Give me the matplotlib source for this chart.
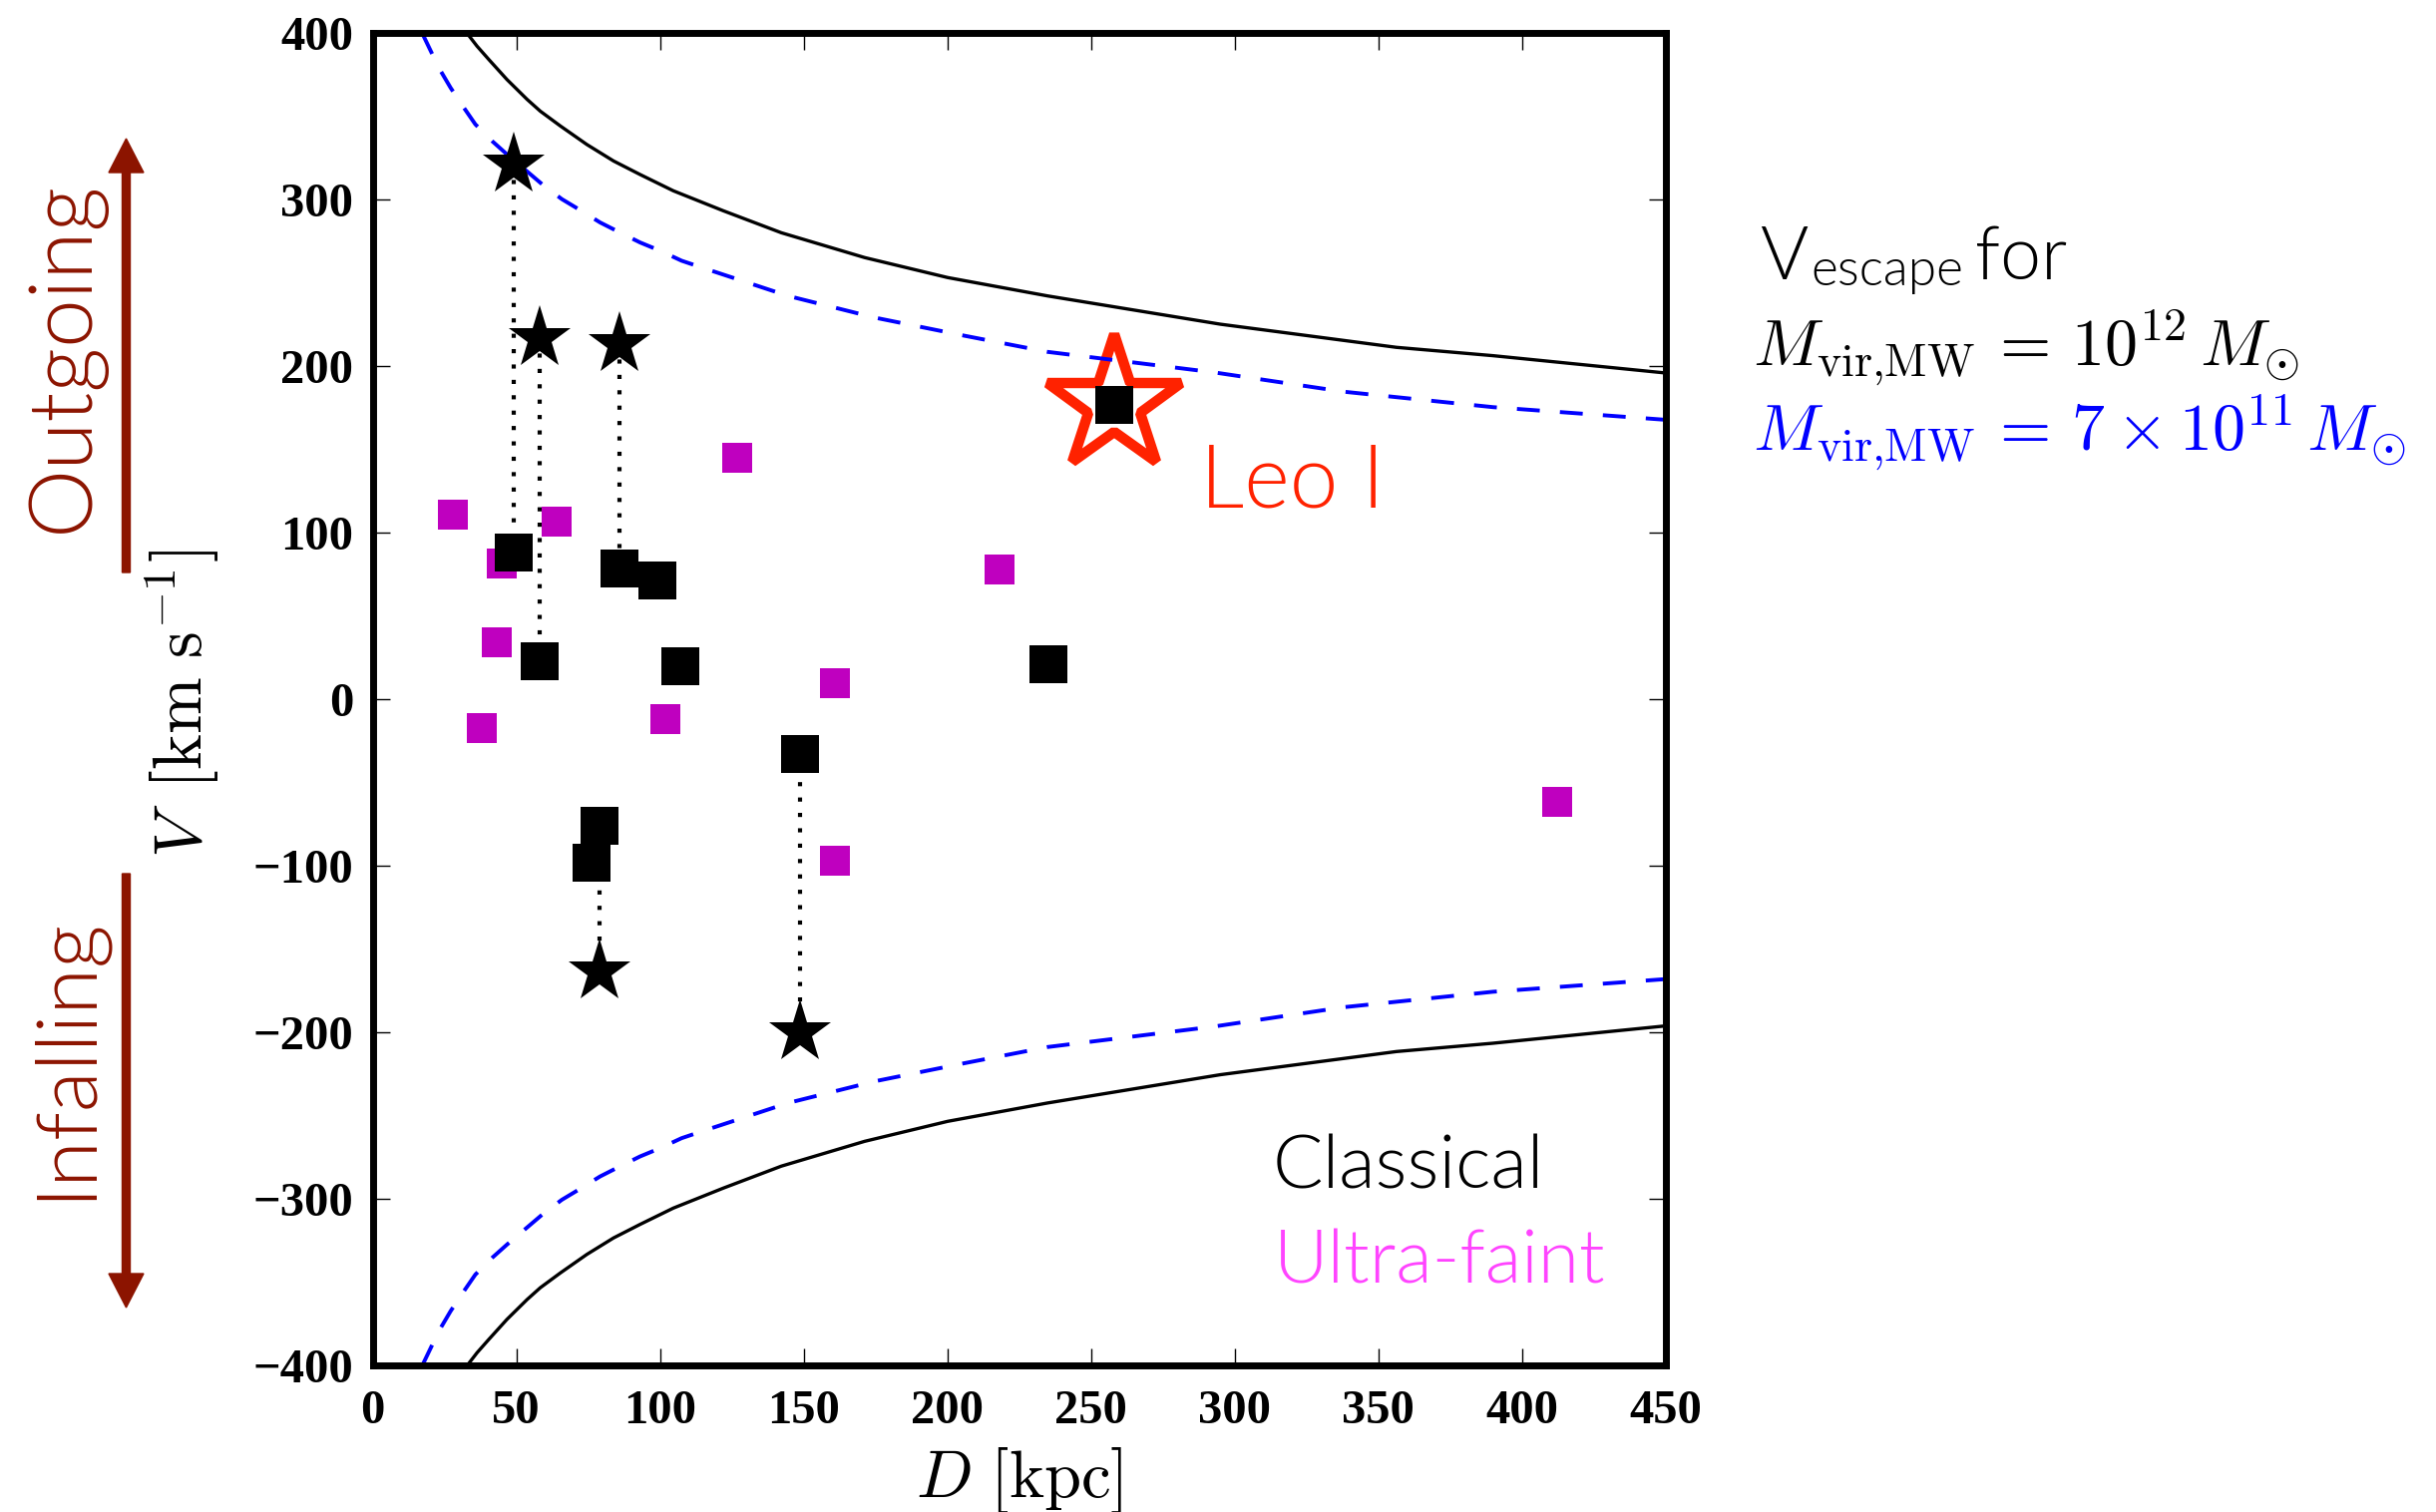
import matplotlib
matplotlib.use("Agg")
import matplotlib.pyplot as plt
from matplotlib.patches import FancyArrow
from matplotlib.transforms import IdentityTransform

plt.rcParams['mathtext.fontset'] = 'cm'

# ---------------- data ----------------
# escape-velocity curves (upper branch / lower branch)
esc12_D = [32.8, 36.3, 40.4, 46.7, 53.7, 58.3, 65.3, 74.5, 83.8, 93.0, 104.6,
           122.0, 142.2, 171.2, 200.1, 234.8, 295.0, 356.3, 389.9, 450.0]
esc12_V = [400.0, 392.2, 384.2, 372.2, 360.3, 353.2, 344.3, 333.2, 323.3, 315.2,
           305.4, 293.4, 280.2, 265.3, 253.3, 242.3, 225.3, 211.4, 206.4, 196.0]
esc12_Vlow = [-400.0, -392.2, -384.2, -372.2, -360.3, -353.2, -344.3, -333.2,
              -323.3, -315.2, -305.4, -293.4, -280.2, -265.3, -253.3, -242.3,
              -225.3, -211.4, -206.4, -196.0]

esc7_D = [17.2, 23.0, 27.1, 31.7, 35.7, 41.5, 46.7, 58.9, 65.8, 71.6, 79.1, 85.5,
          93.0, 100.0, 107.5, 114.4, 144.5, 174.6, 205.9, 234.8, 292.7, 337.8,
          389.9, 450.0]
esc7_V = [400.0, 379.2, 367.2, 355.3, 345.3, 335.3, 327.3, 309.4, 300.4, 294.4,
          286.4, 280.8, 274.4, 269.4, 263.4, 259.4, 242.3, 229.3, 218.4, 208.7,
          196.4, 184.8, 175.5, 167.9]
esc7_Vlow = [-400.0, -379.2, -367.2, -355.3, -345.3, -335.3, -327.3, -309.4,
             -300.4, -294.4, -286.4, -280.8, -274.4, -269.4, -263.4, -259.4,
             -242.3, -229.3, -218.4, -208.7, -196.4, -184.8, -175.5, -167.9]

# classical dwarfs (black squares)
classical_D = [49.0, 58.0, 85.9, 99.0, 106.9, 148.7, 78.9, 76.1, 235.2, 258.2]
classical_V = [88.4, 22.9, 78.6, 71.7, 19.7, -32.5, -76.0, -97.9, 21.3, 176.7]

# ultra-faint dwarfs (magenta squares)
ufd_D = [27.9, 63.9, 44.9, 43.0, 37.8, 101.9, 126.9, 218.0, 161.0, 412.1, 161.0]
ufd_V = [110.8, 106.8, 81.4, 34.4, -16.9, -11.7, 145.0, 77.8, 9.6, -61.3, -96.7]

# alternative velocities (black stars) and the classical dwarf they belong to
star_D = [49.0, 58.0, 86.0, 78.9, 148.7]
star_V = [321.0, 216.7, 213.1, -163.0, -200.0]
star_pair_V = [88.4, 22.9, 78.6, -76.0, -32.5]

leo_D = [258.2]
leo_V = [176.7]

x_ticks = [0, 50, 100, 150, 200, 250, 300, 350, 400, 450]
y_ticks = [-400, -300, -200, -100, 0, 100, 200, 300, 400]

# ---------------- figure ----------------
W, H = 2442, 1516
fig = plt.figure(figsize=(W / 100, H / 100), dpi=100)
ax = fig.add_axes([373.7 / W, 1 - 1369.3 / H, 1296 / W, 1336 / H])

RED = '#FF2200'
DARKRED = '#8C1400'
PINK = '#FF44FF'
MAG = '#BF00BF'

# Leo I open star (underneath)
ax.plot(leo_D, leo_V, linestyle='none', marker='*', ms=102, mfc='none',
        mec=RED, mew=7.5, zorder=1)

# escape curves
ax.plot(esc12_D, esc12_V, color='k', lw=2.4, zorder=2)
ax.plot(esc12_D, esc12_Vlow, color='k', lw=2.4, zorder=2)
ax.plot(esc7_D, esc7_V, color='blue', lw=2.8, dashes=(5.9, 5.2), zorder=2)
ax.plot(esc7_D, esc7_Vlow, color='blue', lw=2.8, dashes=(5.9, 5.2), zorder=2)

# dotted connectors
for d, v1, v2 in zip(star_D, star_V, star_pair_V):
    ax.plot([d, d], [v1, v2], color='k', lw=3.0, linestyle=(0, (1, 2.7)),
            zorder=3)

ax.plot(ufd_D, ufd_V, linestyle='none', marker='s', ms=21.6, mfc=MAG,
        mec='none', mew=0, zorder=4)
ax.plot(classical_D, classical_V, linestyle='none', marker='s', ms=27,
        mfc='k', mec='none', mew=0, zorder=5)
ax.plot(star_D, star_V, linestyle='none', marker='*', ms=47.5, mfc='k',
        mec='none', mew=0, zorder=6)

ax.set_xlim(0, 450)
ax.set_ylim(-400, 400)
ax.set_xticks(x_ticks)
ax.set_yticks(y_ticks)
ax.tick_params(direction='in', length=12, width=1.0, top=True, right=True,
               labelsize=35)
ax.tick_params(axis='x', pad=17)
ax.tick_params(axis='y', pad=14)
for lab in ax.get_xticklabels() + ax.get_yticklabels():
    lab.set_fontfamily('Liberation Serif')
    lab.set_fontweight('bold')
for sp in ax.spines.values():
    sp.set_linewidth(5)

ax.set_xlabel(r'$D\ [\mathrm{kpc}]$', fontsize=48)
ax.set_ylabel(r'$V\ \,[\mathrm{km\ s^{-1}}]$', fontsize=49)
ax.xaxis.set_label_coords(0.5, -(1448.6 - 1369.3) / 1336)
ax.yaxis.set_label_coords(-(373.7 - 222) / 1296, (1369.3 - 706) / 1336)

SANS = 'Lato'
WT = 300

ax.text(288.0, 115.6, 'Leo I', color=RED, fontsize=63, family=SANS,
        weight=WT, va='baseline', ha='left')
ax.text(313.2, -293.6, 'Classical', color='k', fontsize=54, family=SANS,
        weight=WT, va='baseline', ha='left')
ax.text(313.6, -350.5, 'Ultra-faint', color=PINK, fontsize=54, family=SANS,
        weight=WT, va='baseline', ha='left')


def ftext(x, y, s, **kw):
    return fig.text(x / W, 1 - y / H, s, **kw)


ftext(1764, 280, 'V', fontsize=53, family=SANS, weight=WT, va='baseline',
      ha='left')
ftext(1815, 286, 'escape', fontsize=37, family=SANS, weight=WT,
      va='baseline', ha='left')
ftext(1980, 280, 'for', fontsize=53, family=SANS, weight=WT, va='baseline',
      ha='left')
ftext(1757, 368, r'$M_{\rm vir{,}MW} \,=\, 10^{12}\,M_{\odot}$', fontsize=47.5,
      color='k', va='baseline', ha='left')
ftext(1757, 453, r'$M_{\rm vir{,}MW} \,=\, 7\times10^{11}\,M_{\odot}$',
      fontsize=47.5, color='blue', va='baseline', ha='left')

ftext(64, 357, 'Outgoing', fontsize=63, family=SANS, weight=WT,
      color=DARKRED, rotation=90, ha='center', va='center')
ftext(65, 1060, 'Infalling', fontsize=61, family=SANS, weight=WT,
      color=DARKRED, rotation=90, ha='center', va='center')

for y0, y1 in [(574, 139), (876, 1311)]:
    arr = FancyArrow(126.5, H - y0, 0, -(y1 - y0), width=8, head_width=35,
                     head_length=34, length_includes_head=True,
                     color=DARKRED, transform=IdentityTransform())
    fig.add_artist(arr)

fig.savefig('out.png', dpi=100)
